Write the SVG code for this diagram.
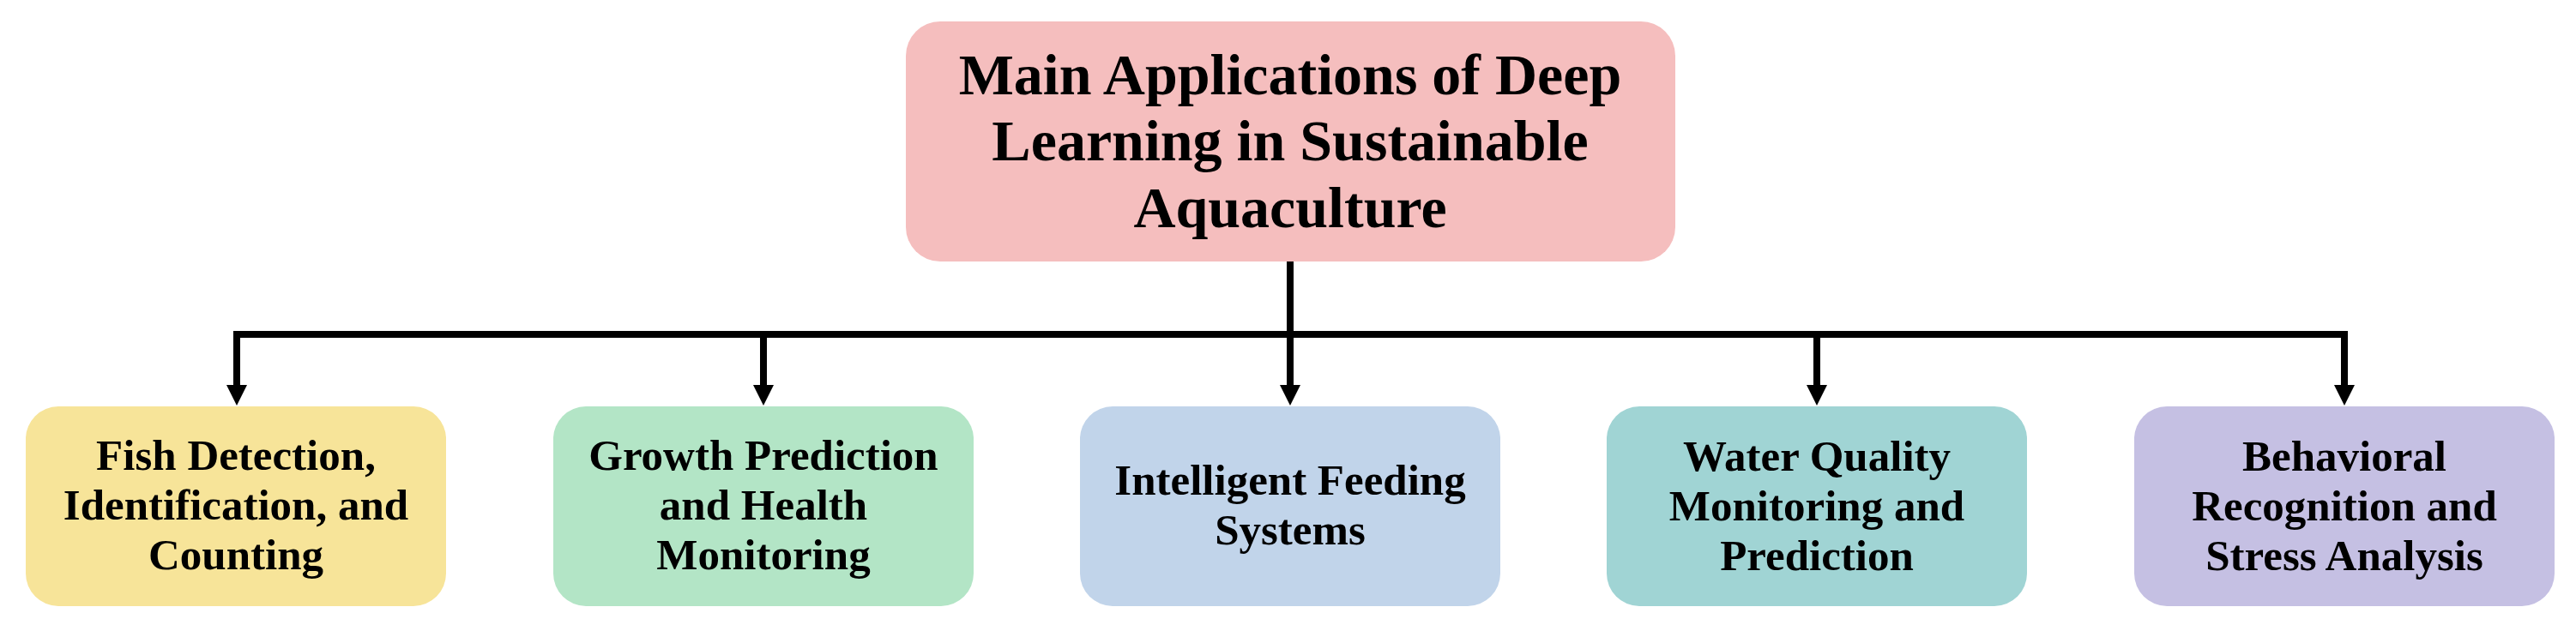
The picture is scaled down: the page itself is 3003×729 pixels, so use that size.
<svg xmlns="http://www.w3.org/2000/svg" width="3003" height="729" viewBox="0 0 3003 729">
<style>
.box{stroke:none}
.t{font-family:"Liberation Serif","Times New Roman",serif;font-weight:bold;fill:#000;text-anchor:middle}
.title{font-size:68px}
.lbl{font-size:51px}
.conn{fill:none;stroke:#000;stroke-width:8;stroke-linejoin:miter;stroke-linecap:butt}
</style>
<defs>
<marker id="arr" markerUnits="userSpaceOnUse" markerWidth="24" markerHeight="24" refX="0" refY="12" orient="auto" viewBox="0 0 24 24">
<path d="M0,0 L24,12 L0,24 z" fill="#000"/>
</marker>
</defs>
<rect width="3003" height="729" fill="#fff"/>
<g id="connectors">
<path class="conn" d="M1504,305 V390"/>
<path class="conn" d="M1504,390 H276 V449" marker-end="url(#arr)"/>
<path class="conn" d="M1504,390 H890 V449" marker-end="url(#arr)"/>
<path class="conn" d="M1504,390 V449" marker-end="url(#arr)"/>
<path class="conn" d="M1504,390 H2118 V449" marker-end="url(#arr)"/>
<path class="conn" d="M1504,390 H2733 V449" marker-end="url(#arr)"/>
</g>
<g id="root">
<rect class="box" x="1056" y="25" width="897" height="280" rx="40" ry="40" fill="#F5BEBE"/>
<text class="t title" x="1504" y="110">Main Applications of Deep</text>
<text class="t title" x="1504" y="187">Learning in Sustainable</text>
<text class="t title" x="1504" y="265">Aquaculture</text>
</g>
<g id="fish-detection">
<rect class="box" x="30" y="474" width="490" height="233" rx="38" ry="38" fill="#F7E499"/>
<text class="t lbl" x="275" y="548">Fish Detection,</text>
<text class="t lbl" x="275" y="606">Identification, and</text>
<text class="t lbl" x="275" y="664">Counting</text>
</g>
<g id="growth-prediction">
<rect class="box" x="645" y="474" width="490" height="233" rx="38" ry="38" fill="#B3E5C6"/>
<text class="t lbl" x="890" y="548">Growth Prediction</text>
<text class="t lbl" x="890" y="606">and Health</text>
<text class="t lbl" x="890" y="664">Monitoring</text>
</g>
<g id="intelligent-feeding">
<rect class="box" x="1259" y="474" width="490" height="233" rx="38" ry="38" fill="#C1D4EA"/>
<text class="t lbl" x="1504" y="577">Intelligent Feeding</text>
<text class="t lbl" x="1504" y="635">Systems</text>
</g>
<g id="water-quality">
<rect class="box" x="1873" y="474" width="490" height="233" rx="38" ry="38" fill="#A0D4D4"/>
<text class="t lbl" x="2118" y="549">Water Quality</text>
<text class="t lbl" x="2118" y="607">Monitoring and</text>
<text class="t lbl" x="2118" y="665">Prediction</text>
</g>
<g id="behavioral-recognition">
<rect class="box" x="2488" y="474" width="490" height="233" rx="38" ry="38" fill="#C5C0E3"/>
<text class="t lbl" x="2733" y="549">Behavioral</text>
<text class="t lbl" x="2733" y="607">Recognition and</text>
<text class="t lbl" x="2733" y="665">Stress Analysis</text>
</g>
</svg>
